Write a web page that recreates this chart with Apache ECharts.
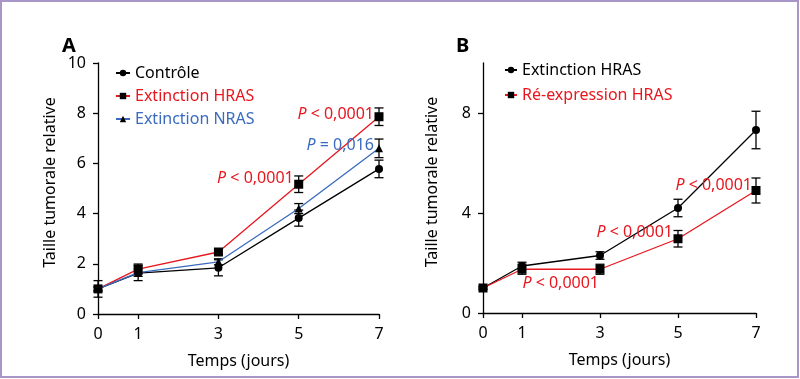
<!DOCTYPE html>
<html><head><meta charset="utf-8">
<script src="https://cdn.jsdelivr.net/npm/echarts@6/dist/echarts.min.js"></script>
<style>html,body{margin:0;padding:0;background:#fff}#c{width:800px;height:379px}</style>
</head><body><div id="c"></div>
<script>
// ---- data ----
const days = [0, 1, 3, 5, 7];
const xTickValues = [0, 1, 3, 5, 7];
const yTicksA = [0, 2, 4, 6, 8, 10];
const yTicksB = [0, 4, 8];
// Panel A
const controleA    = [1.0, 1.63, 1.84, 3.82, 5.78];
const controleAErr = [0.33, 0.30, 0.32, 0.32, 0.35];
const hrasA        = [1.0, 1.79, 2.47, 5.17, 7.86];
const hrasAErr     = [0.08, 0.20, 0.10, 0.33, 0.35];
const nrasA        = [1.0, 1.65, 2.08, 4.20, 6.60];
const nrasAErr     = [0.08, 0.15, 0.12, 0.20, 0.37];
// Panel B
const extB    = [1.0, 1.88, 2.30, 4.20, 7.32];
const extBErr = [0.05, 0.15, 0.15, 0.35, 0.75];
const reB     = [1.0, 1.75, 1.75, 2.97, 4.90];
const reBErr  = [0.05, 0.20, 0.20, 0.33, 0.50];
// P-value annotations
const pTextA  = ['< 0,0001', '< 0,0001', '= 0,016'];
const pXA     = [5, 7, 7];
const pYA     = [5.42, 7.97, 6.73];
const pColA   = ['red', 'red', 'blue'];
const pTextB  = ['< 0,0001', '< 0,0001', '< 0,0001'];
const pXB     = [7, 5, 3];
const pYB     = [5.12, 3.24, 1.20];
const pColB   = ['red', 'red', 'red'];

const FONT = 'Noto Sans';
const RED = '#e8161e', BLUE = '#3a6bbf', BLACK = '#000';
const colorMap = {red: RED, blue: BLUE, black: BLACK};

function pairs(vals) { return days.map((d, i) => [d, vals[i]]); }
function errs(vals, e) { return days.map((d, i) => [d, vals[i] - e[i], vals[i] + e[i]]); }

function errSeries(idx, vals, e) {
  return {
    type: 'custom', xAxisIndex: idx, yAxisIndex: idx, silent: true, z: 3,
    data: errs(vals, e),
    renderItem: function (params, api) {
      const x = api.value(0), lo = api.value(1), hi = api.value(2);
      const a = api.coord([x, hi]), b = api.coord([x, lo]);
      const w = 4.5, st = {stroke: '#000', lineWidth: 1.3};
      return {type: 'group', children: [
        {type: 'line', shape: {x1: a[0], y1: a[1], x2: b[0], y2: b[1]}, style: st},
        {type: 'line', shape: {x1: a[0] - w, y1: a[1], x2: a[0] + w, y2: a[1]}, style: st},
        {type: 'line', shape: {x1: b[0] - w, y1: b[1], x2: b[0] + w, y2: b[1]}, style: st}
      ]};
    }
  };
}

function pSeries(idx, xs, ys, texts, cols, offs) {
  return {
    type: 'custom', xAxisIndex: idx, yAxisIndex: idx, silent: true, z: 6,
    data: xs.map((x, i) => [x, ys[i], i]),
    renderItem: function (params, api) {
      const i = api.value(2);
      const p = api.coord([api.value(0), api.value(1)]);
      const col = colorMap[cols[i]];
      return {
        type: 'text', x: p[0] - offs[i], y: p[1],
        style: {
          text: '{i|P} ' + texts[i],
          fill: col, fontSize: 16, fontFamily: FONT,
          align: 'right', verticalAlign: 'middle',
          rich: {i: {fontStyle: 'italic', fill: col, fontSize: 16, fontFamily: FONT}}
        }
      };
    }
  };
}

function lineSeries(name, idx, vals, color, symbol, size) {
  return {
    name: name, type: 'line', xAxisIndex: idx, yAxisIndex: idx, z: 4,
    data: pairs(vals), symbol: symbol, symbolSize: size,
    lineStyle: {color: color, width: 1.3},
    itemStyle: {color: color},
    emphasis: {disabled: true}
  };
}
function blackSym(s) { s.itemStyle = {color: '#000'}; return s; }

function xAxis(idx) {
  return {
    type: 'value', gridIndex: idx, min: 0, max: 7, interval: 1,
    name: 'Temps (jours)', nameLocation: 'middle', nameGap: 39,
    nameTextStyle: {fontSize: 16, fontFamily: FONT, color: '#000'},
    splitLine: {show: false},
    axisLine: {lineStyle: {color: '#000', width: 1.3}},
    axisTick: {show: true, length: 5, customValues: xTickValues, lineStyle: {color: '#000', width: 1.3}},
    axisLabel: {customValues: xTickValues, margin: 12, fontSize: 16, fontFamily: FONT, color: '#000'}
  };
}
function yAxis(idx, ticks, gap) {
  return {
    type: 'value', gridIndex: idx, min: 0, max: 10, interval: 2,
    name: 'Taille tumorale relative', nameLocation: 'middle', nameGap: gap,
    nameTextStyle: {fontSize: 16, fontFamily: FONT, color: '#000', padding: [0, 0, 0, 12]},
    splitLine: {show: false},
    axisLine: {show: true, lineStyle: {color: '#000', width: 1.3}},
    axisTick: {show: true, length: 5, customValues: ticks, lineStyle: {color: '#000', width: 1.3}},
    axisLabel: {customValues: ticks, margin: 12, fontSize: 16, fontFamily: FONT, color: '#000'}
  };
}

const chart = echarts.init(document.getElementById('c'), null, {renderer: 'canvas'});
chart.setOption({
  animation: false,
  backgroundColor: '#fff',
  title: [
    {text: 'A', left: 57, top: 31, textStyle: {fontSize: 20, fontWeight: 'bold', fontFamily: FONT, color: '#000'}},
    {text: 'B', left: 451, top: 31, textStyle: {fontSize: 20, fontWeight: 'bold', fontFamily: FONT, color: '#000'}}
  ],
  grid: [
    {left: 98, top: 63, width: 281, height: 251},
    {left: 483, top: 63, width: 273, height: 250}
  ],
  xAxis: [xAxis(0), xAxis(1)],
  yAxis: [yAxis(0, yTicksA, 40), yAxis(1, yTicksB, 43)],
  legend: [
    {
      left: 110, top: 60, orient: 'vertical', itemGap: 7, itemWidth: 14, itemHeight: 8,
      selectedMode: false,
      textStyle: {fontSize: 16, fontFamily: FONT},
      data: [
        {name: 'Contrôle', textStyle: {color: BLACK}},
        {name: 'Extinction HRAS', textStyle: {color: RED}},
        {name: 'Extinction NRAS', textStyle: {color: BLUE}}
      ]
    },
    {
      left: 499, top: 57, orient: 'vertical', itemGap: 9, itemWidth: 12, itemHeight: 8,
      selectedMode: false,
      textStyle: {fontSize: 16, fontFamily: FONT},
      data: [
        {name: 'Extinction HRAS ', textStyle: {color: BLACK}},
        {name: 'Ré-expression HRAS', textStyle: {color: RED}}
      ]
    }
  ],
  graphic: [{
    type: 'rect', shape: {x: 1, y: 1, width: 797, height: 376},
    style: {fill: 'none', stroke: '#a896c8', lineWidth: 2}, silent: true
  }],
  series: [
    errSeries(0, controleA, controleAErr),
    errSeries(0, hrasA, hrasAErr),
    errSeries(0, nrasA, nrasAErr),
    lineSeries('Contrôle', 0, controleA, BLACK, 'circle', 8),
    blackSym(lineSeries('Extinction HRAS', 0, hrasA, RED, 'rect', 9)),
    blackSym(lineSeries('Extinction NRAS', 0, nrasA, BLUE, 'triangle', 8)),
    pSeries(0, pXA, pYA, pTextA, pColA, [5, 5, 5]),
    errSeries(1, extB, extBErr),
    errSeries(1, reB, reBErr),
    lineSeries('Extinction HRAS ', 1, extB, BLACK, 'circle', 8),
    blackSym(lineSeries('Ré-expression HRAS', 1, reB, RED, 'rect', 9)),
    pSeries(1, pXB, pYB, pTextB, pColB, [4, 5, 1])
  ]
});
</script></body></html>
